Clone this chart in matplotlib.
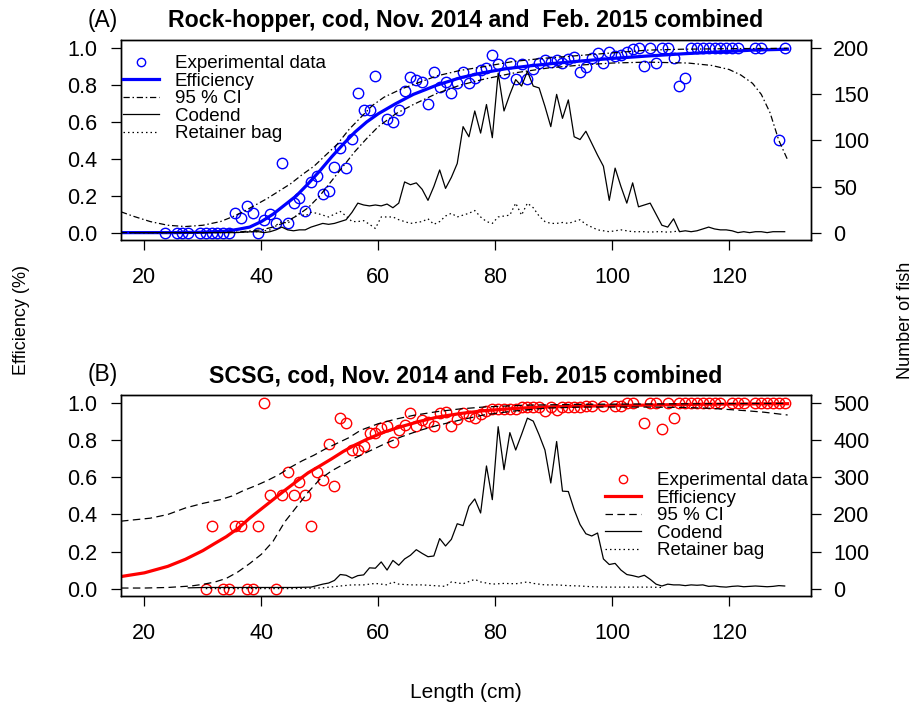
import numpy as np
import matplotlib.pyplot as plt
from matplotlib.lines import Line2D

plt.rcParams['font.family'] = ['Liberation Sans', 'DejaVu Sans']

# ---------------- panel A : rock-hopper ----------------
exp_len_a = [23.5, 25.5, 26.5, 27.5, 29.5, 30.5, 31.5, 32.5, 33.5, 34.5, 35.5, 36.5, 37.5, 38.5,
             39.5, 40.5, 41.5, 42.5, 43.5, 44.5, 45.5, 46.5, 47.5, 48.5, 49.5, 50.5, 51.5, 52.5,
             53.5, 54.5, 55.5, 56.5, 57.5, 58.5, 59.5, 61.5, 62.5, 63.5, 64.5, 65.5, 66.5, 67.5,
             68.5, 69.5, 70.5, 71.5, 72.5, 73.5, 74.5, 75.5, 76.5, 77.5, 78.5, 79.5, 80.5, 81.5,
             82.5, 83.5, 84.5, 85.5, 86.5, 87.5, 88.5, 89.5, 90.5, 91.5, 92.5, 93.5, 94.5, 95.5,
             96.5, 97.5, 98.5, 99.5, 100.5, 101.5, 102.5, 103.5, 104.5, 105.5, 106.5, 107.5, 108.5,
             109.5, 110.5, 111.5, 112.5, 113.5, 114.5, 115.5, 116.5, 117.5, 118.5, 119.5, 120.5,
             121.5, 124.5, 125.5, 128.5, 129.5]
exp_a = [0, 0, 0, 0, 0, 0, 0, 0, 0, 0, 0.105, 0.077, 0.145, 0.108,
         0, 0.068, 0.10, 0.053, 0.377, 0.053, 0.16, 0.186, 0.12, 0.277, 0.308, 0.21, 0.228, 0.355,
         0.459, 0.348, 0.51, 0.755, 0.667, 0.667, 0.85, 0.615, 0.598, 0.667, 0.767, 0.842, 0.828, 0.816,
         0.70, 0.873, 0.79, 0.816, 0.755, 0.813, 0.873, 0.813, 0.84, 0.882, 0.895, 0.962, 0.913, 0.867,
         0.918, 0.835, 0.913, 0.835, 0.886, 0.918, 0.936, 0.925, 0.936, 0.918, 0.94, 0.955, 0.873, 0.898,
         0.949, 0.973, 0.922, 0.98, 0.958, 0.965, 0.98, 0.995, 1.0, 0.904, 1.0, 0.918, 1.0,
         1.0, 0.949, 0.798, 0.84, 1.0, 1.0, 1.0, 1.0, 1.0, 1.0, 1.0, 1.0,
         1.0, 1.0, 1.0, 0.5, 1.0]

eff_len_a = [16, 20, 25, 30, 34, 36, 38, 40, 42, 44, 46, 48, 50, 52, 54, 56, 58, 60, 63, 66,
             70, 74, 78, 82, 86, 90, 95, 100, 106, 112, 118, 124, 130]
eff_a = [0.0, 0.0, 0.0, 0.002, 0.008, 0.018, 0.03, 0.06, 0.10, 0.15, 0.20, 0.265, 0.335, 0.41,
         0.48, 0.545, 0.60, 0.645, 0.70, 0.75, 0.80, 0.84, 0.868, 0.89, 0.905, 0.918, 0.932,
         0.945, 0.958, 0.97, 0.98, 0.99, 0.995]

cihi_len_a = [16, 18, 21, 24, 27, 30, 33, 35, 37, 39, 41, 43, 45, 47, 49, 51, 53, 55, 57, 59,
              61, 64, 67, 70, 74, 78, 83, 88, 94, 100, 106, 112, 120, 130]
cihi_a = [0.113, 0.09, 0.06, 0.04, 0.033, 0.04, 0.06, 0.085, 0.115, 0.15, 0.185, 0.225, 0.265,
          0.315, 0.36, 0.42, 0.48, 0.56, 0.625, 0.69, 0.735, 0.78, 0.815, 0.85, 0.88, 0.90, 0.928,
          0.945, 0.96, 0.975, 0.99, 0.995, 0.998, 1.0]

cilo_len_a = [16, 30, 36, 40, 42, 44, 46, 48, 50, 52, 54, 56, 58, 60, 63, 66, 70, 74, 78, 83,
              89, 95, 100, 106, 113, 117, 120, 122, 124, 125.5, 127, 128.5, 130]
cilo_a = [0.0, 0.0, 0.003, 0.015, 0.03, 0.055, 0.09, 0.135, 0.2, 0.28, 0.36, 0.44, 0.51, 0.575,
          0.645, 0.695, 0.755, 0.80, 0.832, 0.865, 0.893, 0.91, 0.92, 0.925, 0.92, 0.907, 0.885,
          0.855, 0.81, 0.75, 0.65, 0.5, 0.395]

cod_len_a = [17.5, 25.5, 30.5, 35.5] + list(np.arange(38.5, 130, 1.0))
cod_a = [0, 0, 0, 0,
         1, 1, 0, 1, 3, 6, 3, 2, 3, 3, 6, 8, 10, 9, 10, 12, 14, 22, 32, 30, 29, 30,
         29, 31, 27, 32, 55, 52, 54, 47, 35, 50, 68, 48, 60, 75, 115, 104, 132, 108, 139, 103,
         173, 132, 150, 166, 159, 175, 159, 157, 137, 115, 150, 124, 144, 104, 101, 110, 97, 84,
         72, 35, 70, 50, 32, 54, 28, 30, 32, 20, 8, 6, 15, 1, 2, 1, 2, 4, 6, 4, 3, 3, 2, 0, 1,
         0, 1, 1, 0, 1, 1, 1]

ret_len_a = [17.5, 35.5] + list(np.arange(38.5, 112, 1.0))
ret_a = [0, 0,
         1, 1, 2, 3, 8, 12, 10, 16, 21, 18, 22, 21, 19, 17, 20, 23, 18, 12, 12, 13, 9, 4.5, 17,
         17, 17, 14, 12, 10, 11, 12, 15, 9, 12, 18, 21, 17, 19, 21, 24, 17, 12, 10, 17, 18, 19,
         32, 19, 32, 27, 18, 12, 10, 10, 11, 10, 12, 14, 9, 6, 3, 2, 1, 2, 3, 2, 1, 1, 1, 0.5,
         1, 1, 0.5, 1, 2]

# ---------------- panel B : SCSG ----------------
exp_len_b = [30.5, 31.5, 33.5, 34.5, 35.5, 36.5, 37.5, 38.5, 39.5, 40.5, 41.5, 42.5, 43.5, 44.5,
             45.5, 46.5, 47.5, 48.5, 49.5, 50.5, 51.5, 52.5, 53.5, 54.5, 55.5, 56.5, 57.5, 58.5,
             59.5, 60.5, 61.5, 62.5, 63.5, 64.5, 65.5, 66.5, 67.5, 68.5, 69.5, 70.5, 71.5, 72.5,
             73.5, 74.5, 75.5, 76.5, 77.5, 78.5, 79.5, 80.5, 81.5, 82.5, 83.5, 84.5, 85.5, 86.5,
             87.5, 88.5, 89.5, 90.5, 91.5, 92.5, 93.5, 94.5, 95.5, 96.5, 98.5, 100.5, 101.5, 102.5,
             103.5, 105.5, 106.5, 107.5, 108.5, 109.5, 110.5, 111.5, 112.5, 113.5, 114.5, 115.5,
             116.5, 117.5, 118.5, 120.5, 121.5, 122.5, 124.5, 125.5, 126.5, 127.5, 128.5, 129.5]
exp_b = [0, 0.34, 0, 0, 0.34, 0.34, 0, 0, 0.34, 1.0, 0.507, 0, 0.507, 0.629,
         0.507, 0.574, 0.507, 0.34, 0.629, 0.584, 0.78, 0.552, 0.923, 0.896, 0.746, 0.75, 0.769, 0.839,
         0.842, 0.866, 0.875, 0.789, 0.857, 0.884, 0.95, 0.875, 0.91, 0.90, 0.875, 0.95, 0.955, 0.875,
         0.914, 0.946, 0.93, 0.92, 0.945, 0.96, 0.97, 0.97, 0.97, 0.97, 0.97, 0.98, 0.98, 0.98,
         0.98, 0.96, 0.98, 0.965, 0.98, 0.98, 0.98, 0.98, 0.985, 0.985, 0.985, 0.985, 0.985, 1.0,
         1.0, 0.896, 1.0, 1.0, 0.86, 1.0, 0.923, 1.0, 1.0, 1.0, 1.0, 1.0,
         1.0, 1.0, 1.0, 1.0, 1.0, 1.0, 1.0, 1.0, 1.0, 1.0, 1.0, 1.0]

eff_len_b = [16, 20, 24, 27, 30, 32, 34, 36, 38, 40, 42, 44, 46, 48, 50, 52, 54, 56, 58, 61,
             64, 67, 70, 74, 78, 83, 88, 95, 105, 115, 130]
eff_b = [0.065, 0.085, 0.12, 0.158, 0.205, 0.243, 0.28, 0.325, 0.38, 0.43, 0.48, 0.53, 0.578,
         0.625, 0.662, 0.70, 0.74, 0.775, 0.805, 0.845, 0.875, 0.902, 0.925, 0.945, 0.96, 0.972,
         0.98, 0.985, 0.99, 0.995, 0.998]

cihi_len_b = [16, 21, 24, 27, 30, 33, 35, 37, 39, 41, 43, 45, 47, 49, 51, 53, 55, 57, 60, 63,
              66, 70, 74, 78, 85, 95, 130]
cihi_b = [0.364, 0.38, 0.40, 0.435, 0.46, 0.48, 0.50, 0.53, 0.555, 0.583, 0.615, 0.655, 0.69,
          0.72, 0.755, 0.785, 0.815, 0.855, 0.89, 0.915, 0.935, 0.955, 0.97, 0.98, 0.99, 0.995, 1.0]

cilo_len_b = [16, 20, 24, 28, 30, 32, 34, 36, 38, 40, 42, 44, 46, 48, 50, 52, 54, 56, 58, 61,
              64, 67, 70, 74, 78, 83, 89, 95, 105, 112, 117, 123, 126, 130]
cilo_b = [0.003, 0.003, 0.006, 0.014, 0.023, 0.035, 0.055, 0.09, 0.135, 0.185, 0.255, 0.36,
          0.44, 0.52, 0.59, 0.635, 0.67, 0.705, 0.735, 0.78, 0.82, 0.853, 0.88, 0.91, 0.937,
          0.958, 0.975, 0.98, 0.98, 0.978, 0.973, 0.96, 0.952, 0.937]

cod_len_b = [27.5, 30.5, 35.5, 40.5, 45.5] + list(np.arange(48.5, 130, 1.0))
cod_b = [2, 3, 3, 3, 3,
         4, 8, 12, 15, 22, 38, 36, 28, 35, 37, 56, 55, 72, 50, 76, 63, 80, 90, 105, 95, 86, 88,
         135, 115, 133, 175, 170, 222, 242, 204, 331, 240, 437, 321, 421, 374, 416, 460, 452, 415,
         374, 285, 397, 263, 262, 213, 173, 148, 142, 150, 80, 65, 68, 50, 38, 35, 31, 36, 25, 12,
         7, 12, 10, 10, 8, 10, 9, 10, 6, 7, 5, 4, 6, 7, 5, 6, 7, 6, 5, 6, 8, 7]

ret_len_b = [30.5, 45.5, 50.5, 53.5, 55.5, 57.5, 59.5, 61.5, 62.5, 63.5, 65.5, 67.5, 69.5, 71.5,
             72.5, 74.5, 76.5, 77.5, 79.5, 81.5, 83.5, 85.5, 86.5, 88.5, 90.5, 92.5, 94.5, 96.5,
             98.5, 100.5, 102.5, 104.5, 106.5, 108.5]
ret_b = [0, 0, 2, 7, 10, 10, 14, 10, 18, 12, 10, 10, 8, 6,
         18, 13, 25, 18, 12, 14, 13, 18, 14, 10, 10, 8, 7, 5,
         4, 4, 4, 4, 4, 3]

x_ticks = [20, 40, 60, 80, 100, 120]
legend_labels = ['Experimental data', 'Efficiency', '95 % CI', 'Codend', 'Retainer bag']

DOTDASH = (0, (5, 2.2, 1.2, 2.2))
DASHED = (0, (6, 3.5))
DOTTED = (0, (1.2, 2.4))

W, H = 922, 709
fig = plt.figure(figsize=(W / 100, H / 100), dpi=100)


def panel(bottom_px, top_px, exp_len, exp_val, eff_len, eff_val, hi_len, hi_val, lo_len, lo_val,
          c_len, c_val, r_len, r_val, colour, ci_style, count_max, count_ticks, tag, title,
          leg_anchor):
    ax = fig.add_axes([121 / W, 1 - bottom_px / H, 690 / W, (bottom_px - top_px) / H])
    ax.plot(exp_len, exp_val, 'o', mfc='none', mec=colour, ms=7.5, mew=1.0)
    ax.plot(eff_len, eff_val, color=colour, lw=2.3)
    ax.plot(hi_len, hi_val, color='black', lw=0.9, linestyle=ci_style)
    ax.plot(lo_len, lo_val, color='black', lw=0.9, linestyle=ci_style)
    ax.set_xlim(16, 134)
    ax.set_ylim(-0.04, 1.045)
    ax.set_xticks(x_ticks)
    ax.set_yticks([0, 0.2, 0.4, 0.6, 0.8, 1.0])
    ax.set_yticklabels(['0.0', '0.2', '0.4', '0.6', '0.8', '1.0'])
    ax.tick_params(labelsize=15.5, length=7.5, width=0.9)
    ax.tick_params(axis='x', pad=12)
    ax.tick_params(axis='y', pad=9.5)

    axr = ax.twinx()
    axr.plot(c_len, c_val, color='black', lw=0.9)
    axr.plot(r_len, r_val, color='black', lw=0.9, linestyle=DOTTED)
    axr.set_ylim(-0.04 * count_max, 1.045 * count_max)
    axr.set_yticks(count_ticks)
    axr.tick_params(labelsize=15.5, length=7.5, width=0.9, pad=8.5)
    for a in (ax, axr):
        for s in a.spines.values():
            s.set_linewidth(1.0)

    ax.set_title(title, fontsize=16.7, fontweight='bold', pad=9)
    fig.text(88 / W, 1 - (top_px - 20) / H, tag, fontsize=16.5, va='center', ha='left')

    handles = [
        Line2D([], [], marker='o', ls='none', mfc='none', mec=colour, ms=6, mew=1.0),
        Line2D([], [], color=colour, lw=2.3),
        Line2D([], [], color='black', lw=0.9, linestyle=ci_style),
        Line2D([], [], color='black', lw=0.9),
        Line2D([], [], color='black', lw=0.9, linestyle=DOTTED),
    ]
    axr.legend(handles, legend_labels, loc='upper left', frameon=False, fontsize=13.5,
               bbox_to_anchor=(leg_anchor[0] / W, 1 - leg_anchor[1] / H),
               bbox_transform=fig.transFigure, borderpad=0, borderaxespad=0,
               handlelength=1.9, handletextpad=0.85, labelspacing=0.02)
    return ax, axr


panel(240, 40, exp_len_a, exp_a, eff_len_a, eff_a, cihi_len_a, cihi_a, cilo_len_a, cilo_a,
      cod_len_a, cod_a, ret_len_a, ret_a, '#0000ff', DOTDASH, 200, [0, 50, 100, 150, 200], '(A)',
      'Rock-hopper, cod, Nov. 2014 and  Feb. 2015 combined', (123, 55))
panel(596, 395, exp_len_b, exp_b, eff_len_b, eff_b, cihi_len_b, cihi_b, cilo_len_b, cilo_b,
      cod_len_b, cod_b, ret_len_b, ret_b, '#ff0000', DASHED, 500, [0, 100, 200, 300, 400, 500], '(B)',
      'SCSG, cod, Nov. 2014 and Feb. 2015 combined', (605, 472))

fig.text(22 / W, 1 - 320 / H, 'Efficiency (%)', rotation=90, fontsize=13, ha='center', va='center')
fig.text(905 / W, 1 - 320 / H, 'Number of fish', rotation=90, fontsize=13, ha='center', va='center')
fig.text(466 / W, 1 - 693 / H, 'Length (cm)', fontsize=15, ha='center', va='center')

fig.savefig('out.png', dpi=100)
